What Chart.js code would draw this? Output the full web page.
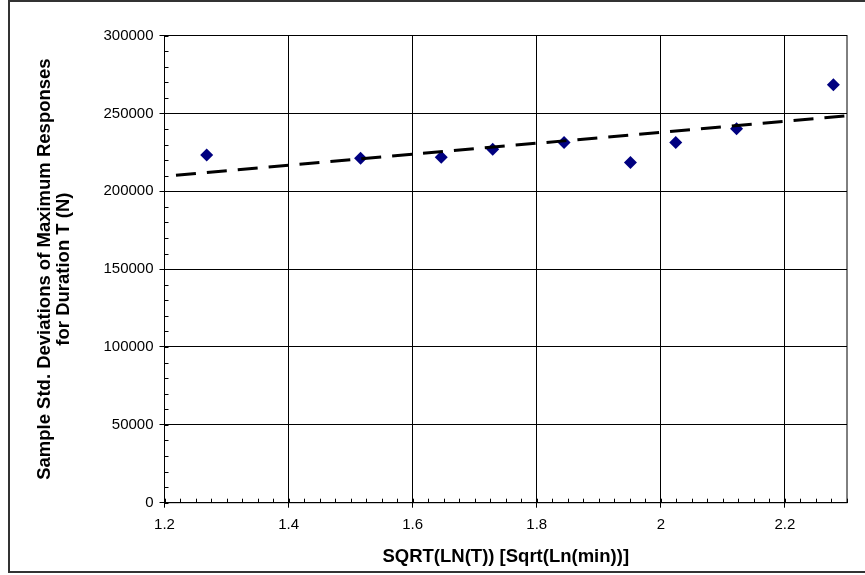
<!DOCTYPE html>
<html>
<head>
<meta charset="utf-8">
<script src="https://cdn.jsdelivr.net/npm/chart.js@4/dist/chart.umd.min.js"></script>
<style>
  html, body { margin: 0; padding: 0; background: #fff; }
  #wrap { width: 865px; height: 575px; position: relative; }
</style>
</head>
<body>
<div id="wrap"><canvas id="chart" width="865" height="575"></canvas></div>
<script>
// measured points
const xValues = [1.268, 1.516, 1.646, 1.729, 1.844, 1.951, 2.024, 2.122, 2.278];
const yValues = [223200, 221200, 221900, 227000, 231300, 218400, 231300, 240100, 268300];

// linear trend line end points
const trendX = [1.2185, 2.3];
const trendY = [210300, 248450];

const xTicks = [1.2, 1.4, 1.6, 1.8, 2, 2.2];
const yTicks = [0, 50000, 100000, 150000, 200000, 250000, 300000];

const xTitle = "SQRT(LN(T)) [Sqrt(Ln(min))]";
const yTitle = ["Sample Std. Deviations of Maximum Responses", "for Duration T (N)"];

const FONT = "'Liberation Sans', Arial, sans-serif";

// frame, plot box and inward minor ticks
const decor = {
    id: "decor",
    beforeDraw(chart) {
        const c = chart.ctx;
        c.save();
        c.fillStyle = "#fff";
        c.fillRect(0, 0, chart.width, chart.height);
        c.strokeStyle = "#333";
        c.lineWidth = 2;
        c.strokeRect(9, 1, 870, 571);
        c.restore();
    },
    afterDatasetsDraw(chart) {
        const c = chart.ctx;
        const a = chart.chartArea;
        const xs = chart.scales.x, ys = chart.scales.y;
        c.save();
        c.strokeStyle = "#000";
        c.lineWidth = 1;
        c.strokeRect(a.left, a.top, a.right - a.left, a.bottom - a.top);
        c.beginPath();
        for (let v = 1.2; v < 2.3 + 1e-9; v += 0.025) {
            const px = Math.round(xs.getPixelForValue(v)) + 0.5;
            c.moveTo(px, a.bottom);
            c.lineTo(px, a.bottom - 4);
        }
        for (let v = 0; v <= 300000; v += 10000) {
            const py = Math.round(ys.getPixelForValue(v)) + 0.5;
            c.moveTo(a.left, py);
            c.lineTo(a.left + 4, py);
        }
        c.stroke();
        c.restore();
    }
};

const ctx = document.getElementById("chart").getContext("2d");

new Chart(ctx, {
    type: "scatter",
    data: {
        datasets: [
            {
                label: "Trend",
                type: "line",
                data: trendX.map((x, i) => ({ x, y: trendY[i] })),
                borderColor: "#000",
                borderWidth: 3,
                borderDash: [20, 11],
                pointRadius: 0,
                fill: false
            },
            {
                label: "Std",
                data: xValues.map((x, i) => ({ x, y: yValues[i] })),
                pointStyle: "rectRot",
                pointRadius: 6.5,
                pointBorderWidth: 0,
                backgroundColor: "#000080",
                borderColor: "#000080"
            }
        ]
    },
    options: {
        responsive: false,
        animation: false,
        layout: { padding: { left: 10, top: 35.5, right: 18, bottom: 4 } },
        plugins: {
            legend: { display: false },
            tooltip: { enabled: false }
        },
        scales: {
            x: {
                type: "linear",
                min: 1.2,
                max: 2.3,
                afterBuildTicks: s => { s.ticks = xTicks.map(v => ({ value: v })); },
                afterFit: s => { s.height = 68.3; },
                grid: { color: "#000", lineWidth: 1, tickLength: 5, tickColor: "#000" },
                border: { color: "#000", width: 1 },
                ticks: {
                    color: "#000",
                    font: { family: FONT, size: 15 },
                    padding: 8,
                    maxRotation: 0,
                    callback: v => String(v)
                },
                title: {
                    display: true,
                    text: xTitle,
                    color: "#000",
                    font: { family: FONT, size: 18.5, weight: "bold", lineHeight: 1 },
                    padding: { top: 0, bottom: 5 }
                }
            },
            y: {
                min: 0,
                max: 300000,
                afterBuildTicks: s => { s.ticks = yTicks.map(v => ({ value: v })); },
                afterFit: s => { s.width = 154.5; },
                grid: { color: "#000", lineWidth: 1, tickLength: 5, tickColor: "#000" },
                border: { color: "#000", width: 1 },
                ticks: {
                    color: "#000",
                    font: { family: FONT, size: 15 },
                    padding: 6,
                    callback: v => String(v)
                },
                title: {
                    display: true,
                    text: yTitle,
                    color: "#000",
                    font: { family: FONT, size: 18.5, weight: "bold", lineHeight: 1 },
                    padding: { top: 26, bottom: 0 }
                }
            }
        }
    },
    plugins: [decor]
});
</script>
</body>
</html>
